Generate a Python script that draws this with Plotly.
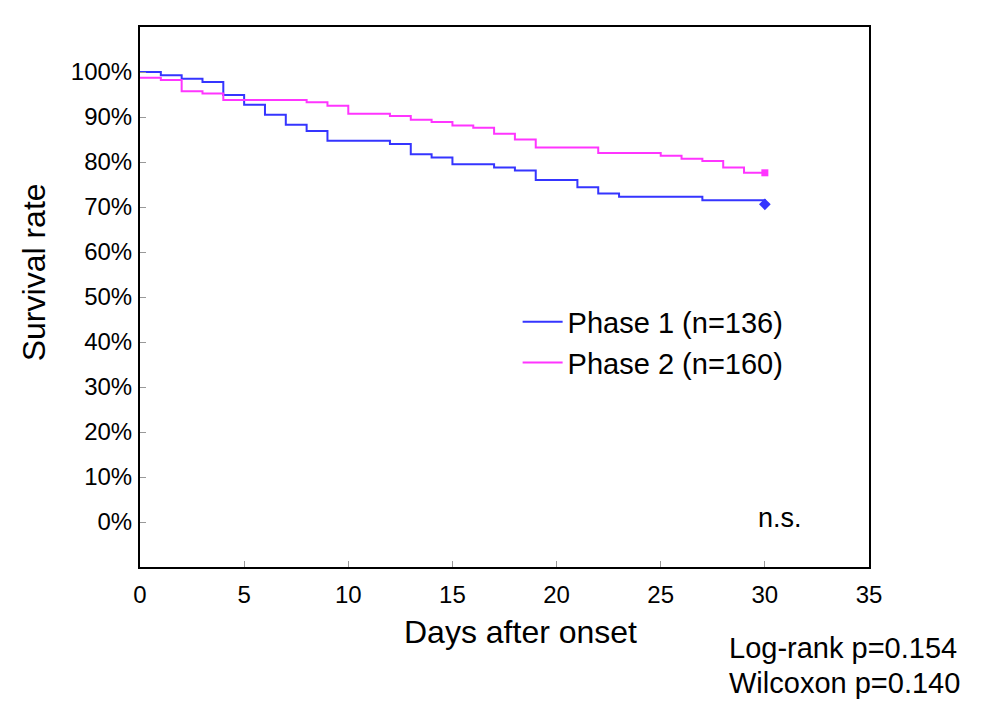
import plotly.graph_objects as go

# Kaplan-Meier steps (day of step, survival % from that day on)
days_p1 = [0, 1, 2, 3, 4, 5, 6, 7, 8, 9, 12, 13, 14, 15, 17, 18, 19, 21, 22, 23, 27, 30]
surv_p1 = [100, 99.3, 98.5, 97.8, 94.9, 92.7, 90.5, 88.3, 86.9, 84.7, 84.0, 81.7,
           81.0, 79.5, 78.8, 78.1, 76.0, 74.4, 73.0, 72.3, 71.5, 70.6]

days_p2 = [0, 1, 2, 3, 4, 8, 9, 10, 12, 13, 14, 15, 16, 17, 18, 19, 22, 25, 26, 27, 28, 29, 30]
surv_p2 = [98.7, 98.2, 95.7, 95.2, 93.8, 93.3, 92.5, 90.7, 90.2, 89.4, 88.9, 88.1,
           87.6, 86.3, 85.0, 83.2, 82.0, 81.4, 80.7, 80.2, 78.8, 77.6, 77.6]

names = ["Phase 1 (n=136)", "Phase 2 (n=160)"]
y_ticks = list(range(0, 101, 10))
y_labels = [f"{v}%" for v in y_ticks]
x_ticks = list(range(0, 36, 5))

blue = "#3535ff"
pink = "#ff35ff"
font = "Liberation Sans, Arial, Helvetica, sans-serif"

fig = go.Figure()
fig.add_trace(go.Scatter(x=days_p1, y=surv_p1, mode="lines", line_shape="hv",
                         line=dict(color=blue, width=2), name=names[0]))
fig.add_trace(go.Scatter(x=days_p2, y=surv_p2, mode="lines", line_shape="hv",
                         line=dict(color=pink, width=2), name=names[1]))
# censor marks at end of follow-up
fig.add_trace(go.Scatter(x=days_p1[-1:], y=surv_p1[-1:], mode="markers", showlegend=False,
                         marker=dict(symbol="diamond", size=9, color=blue)))
fig.add_trace(go.Scatter(x=days_p2[-1:], y=surv_p2[-1:], mode="markers", showlegend=False,
                         marker=dict(symbol="square", size=7, color=pink)))

axis_common = dict(showgrid=False, zeroline=False, showline=True, linecolor="black",
                   linewidth=2, mirror=True, ticks="inside", ticklen=6, tickwidth=1,
                   tickcolor="#999999", tickfont=dict(size=24, color="black"))

fig.update_xaxes(range=[0, 35], tickvals=x_ticks, ticklabelstandoff=5, **axis_common)
fig.update_yaxes(range=[-10, 110], tickvals=y_ticks, ticktext=y_labels,
                 ticklabelstandoff=1, **axis_common)

fig.add_annotation(text="Days after onset", xref="paper", yref="paper",
                   x=0.522, y=-0.12, xanchor="center", yanchor="middle",
                   showarrow=False, font=dict(size=32))
fig.add_annotation(text="Survival rate", xref="paper", yref="paper",
                   x=-0.146, y=0.545, xanchor="center", yanchor="middle",
                   textangle=-90, showarrow=False, font=dict(size=32))
fig.add_annotation(text="n.s.", xref="paper", yref="paper",
                   x=0.8775, y=0.09, xanchor="center", yanchor="middle",
                   showarrow=False, font=dict(size=27))
fig.add_annotation(text="Log-rank p=0.154", xref="paper", yref="paper",
                   x=0.805, y=-0.15, xanchor="left", yanchor="middle",
                   showarrow=False, font=dict(size=29))
fig.add_annotation(text="Wilcoxon p=0.140", xref="paper", yref="paper",
                   x=0.805, y=-0.215, xanchor="left", yanchor="middle",
                   showarrow=False, font=dict(size=29))

fig.update_layout(
    width=986, height=719,
    margin=dict(l=132, r=125, t=19, b=160),
    paper_bgcolor="white", plot_bgcolor="white",
    font=dict(family=font, color="black"),
    legend=dict(x=0.518, y=0.501, xanchor="left", yanchor="top", itemwidth=40,
                font=dict(size=29), bgcolor="rgba(0,0,0,0)", tracegroupgap=0),
)

fig.write_html("out.html")
